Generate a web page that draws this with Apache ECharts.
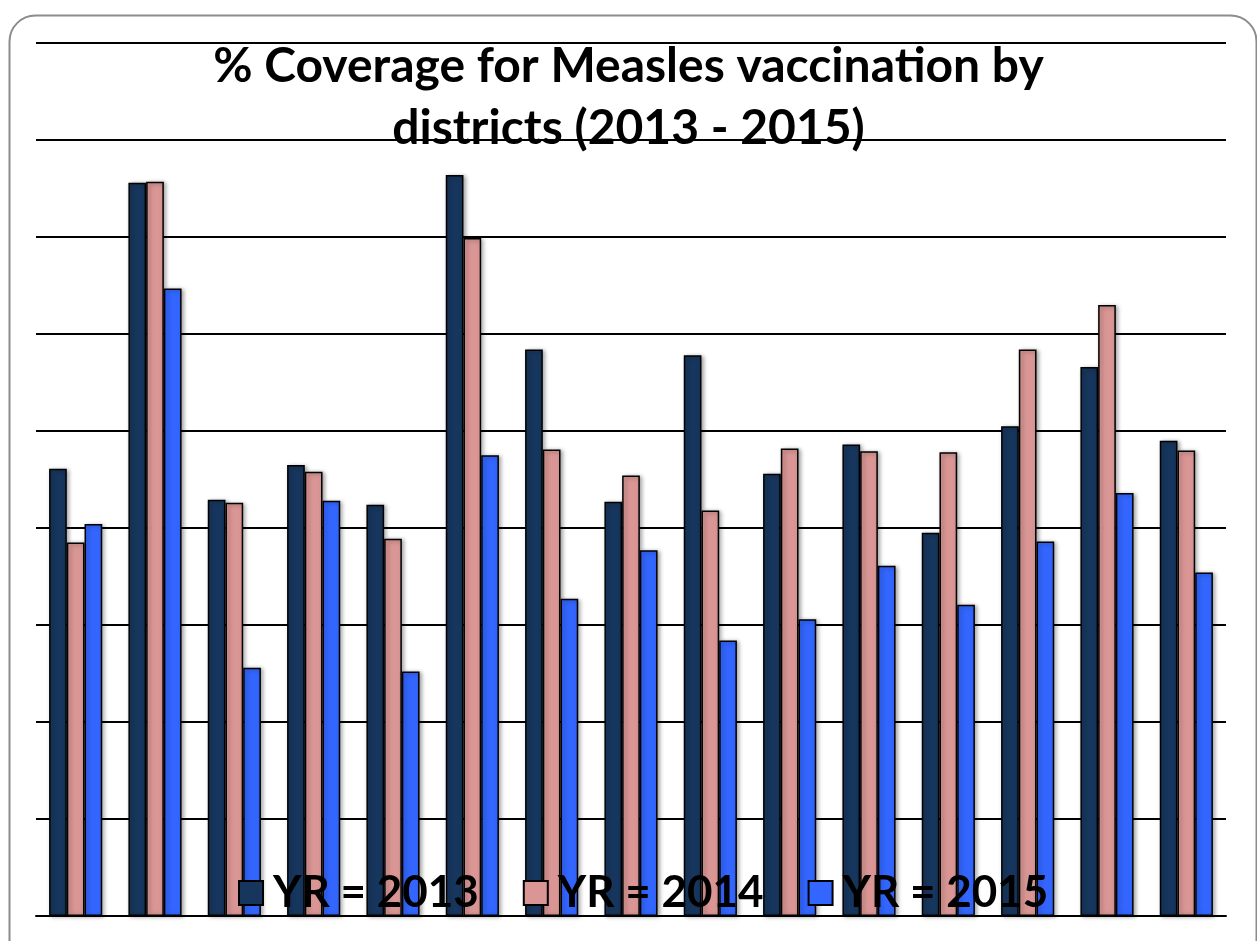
<!DOCTYPE html>
<html>
<head>
<meta charset="utf-8">
<title>% Coverage for Measles vaccination by districts (2013 - 2015)</title>
<script src="https://cdn.jsdelivr.net/npm/echarts@6/dist/echarts.min.js"></script>
<style>
  html, body { margin: 0; padding: 0; background: #ffffff; }
  #chart { width: 1257px; height: 941px; }
</style>
</head>
<body>
<div id="chart"></div>
<script>
// District order along the x axis (names are not printed on the chart)
const districts = ['D1', 'D2', 'D3', 'D4', 'D5', 'D6', 'D7', 'D8',
                   'D9', 'D10', 'D11', 'D12', 'D13', 'D14', 'D15'];

// Measles vaccination coverage (%) per district and year
const yr2013 = [46.1, 75.6, 42.9, 46.5, 42.4, 76.4, 58.4, 42.7, 57.8, 45.6, 48.6, 39.5, 50.5, 56.6, 49.0];
const yr2014 = [38.5, 75.7, 42.6, 45.8, 38.9, 69.9, 48.1, 45.4, 41.8, 48.2, 47.9, 47.8, 58.4, 63.0, 48.0];
const yr2015 = [40.4, 64.7, 25.6, 42.8, 25.2, 47.5, 32.7, 37.7, 28.4, 30.6, 36.1, 32.1, 38.6, 43.6, 35.4];

const seriesNames = ['YR = 2013', 'YR = 2014', 'YR = 2015'];
const seriesColors = ['#17365D', '#D99694', '#3366FF'];

const chart = echarts.init(document.getElementById('chart'), null, { renderer: 'canvas' });

function barSeries(name, data, color) {
  return {
    name: name,
    type: 'bar',
    data: data,
    barGap: '0%',
    barCategoryGap: '33%',
    itemStyle: {
      color: color,
      borderColor: '#000000',
      borderWidth: 1.5,
      shadowColor: 'rgba(0,0,0,0.35)',
      shadowBlur: 4,
      shadowOffsetX: 2,
      shadowOffsetY: 1
    },
    emphasis: { disabled: true }
  };
}

chart.setOption({
  animation: false,
  backgroundColor: '#ffffff',
  graphic: [{
    type: 'rect',
    left: 7,
    top: 13,
    shape: { width: 1247, height: 960, r: 26 },
    style: { fill: 'none', stroke: '#8c8c8c', lineWidth: 2 },
    z: -1,
    silent: true
  }],
  title: {
    text: '% Coverage for Measles vaccination by\ndistricts (2013 - 2015)',
    left: 'center',
    top: 31,
    textStyle: {
      fontFamily: 'Lato',
      fontWeight: 'bold',
      fontSize: 48,
      lineHeight: 62,
      color: '#000000',
      align: 'center'
    },
    z: 10
  },
  legend: {
    data: seriesNames,
    left: 238,
    top: 871,
    padding: 0,
    icon: 'rect',
    itemWidth: 24,
    itemHeight: 24,
    itemGap: 44,
    textStyle: {
      fontFamily: 'Lato',
      fontWeight: 'bold',
      fontSize: 44,
      color: '#000000',
      padding: [0, 0, 0, 5]
    },
    z: 10
  },
  grid: {
    left: 36,
    right: 31,
    top: 43,
    bottom: 25,
    containLabel: false
  },
  xAxis: {
    type: 'category',
    data: districts,
    axisLine: { show: true, lineStyle: { color: '#000000', width: 2 } },
    axisTick: { show: false },
    axisLabel: { show: false },
    splitLine: { show: false }
  },
  yAxis: {
    type: 'value',
    min: 0,
    max: 90,
    interval: 10,
    axisLine: { show: false },
    axisTick: { show: false },
    axisLabel: { show: false },
    splitLine: { show: true, lineStyle: { color: '#000000', width: 2 } }
  },
  series: [
    barSeries(seriesNames[0], yr2013, seriesColors[0]),
    barSeries(seriesNames[1], yr2014, seriesColors[1]),
    barSeries(seriesNames[2], yr2015, seriesColors[2])
  ]
});
</script>
</body>
</html>
